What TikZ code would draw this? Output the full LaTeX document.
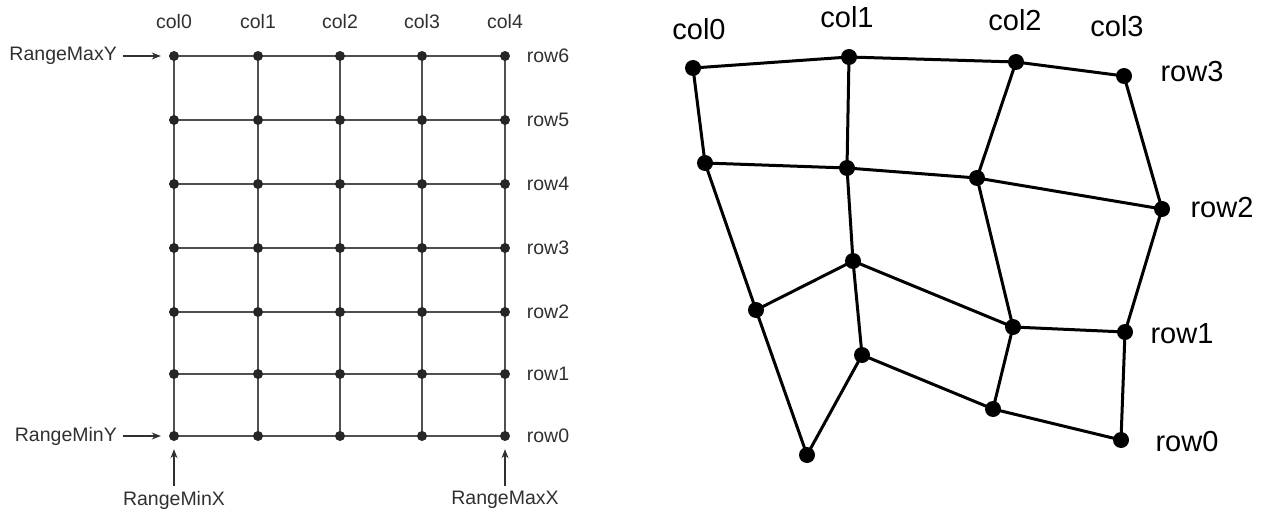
\documentclass[tikz,border=0pt]{standalone}
\usepackage{fontspec}
\setmainfont{Liberation Sans}
\usetikzlibrary{arrows.meta}
\definecolor{lgline}{HTML}{505050}
\definecolor{lgtext}{HTML}{303030}
\begin{document}
\begin{tikzpicture}[x=1pt,y=-1pt,
  ldot/.style={circle,fill=black!85,inner sep=0pt,minimum size=10pt},
  rdot/.style={circle,fill=black,inner sep=0pt,minimum size=16pt},
  lline/.style={draw=lgline,line width=1.5pt},
  rline/.style={draw=black,line width=3pt},
  llab/.style={font=\fontsize{19.5}{22}\selectfont,text=lgtext,inner sep=0pt},
  rlab/.style={font=\fontsize{29}{32}\selectfont,text=black,inner sep=0pt},
  larrow/.style={draw=lgtext,line width=1.2pt,-{Stealth[length=9pt,width=7pt]}}]
\useasboundingbox (0,0) rectangle (1265,513);
% ---------- left grid ----------
\foreach \c/\x in {0/174,1/258,2/340,3/422,4/505}{
  \foreach \r/\y in {0/436,1/374,2/312,3/248,4/184,5/120,6/56}{
    \coordinate (L\c\r) at (\x,\y);
  }
}
\foreach \r in {0,...,6}{ \draw[lline] (L0\r) -- (L4\r); }
\foreach \c in {0,...,4}{ \draw[lline] (L\c0) -- (L\c6); }
\foreach \c in {0,...,4}{ \foreach \r in {0,...,6}{ \node[ldot] (D\c\r) at (L\c\r) {}; } }
\foreach \c/\x in {0/174,1/258,2/340,3/422,4/505}{
  \node[llab] (lc\c) at (\x,22) {col\c};
}
\foreach \r/\y in {0/436,1/374,2/312,3/248,4/184,5/120,6/56}{
  \node[llab] (lr\r) at (548,\y) {row\r};
}
\node[llab,anchor=east] (rmaxy) at (117,56) {RangeMaxY};
\node[llab,anchor=east] (rminy) at (117,436) {RangeMinY};
\node[llab] (rminx) at (174,500) {RangeMinX};
\node[llab] (rmaxx) at (505,500) {RangeMaxX};
\draw[larrow] (rmaxy.east) ++(6,0) coordinate (amy) -- ([xshift=-8pt]D06.west);
\draw[larrow] (rminy.east) ++(6,0) coordinate (amny) -- ([xshift=-8pt]D00.west);
\draw[larrow] (rminx.north) ++(0,-5) coordinate (amnx) -- ([yshift=-8pt]D00.south);
\draw[larrow] (rmaxx.north) ++(0,-5) coordinate (amxx) -- ([yshift=-8pt]D40.south);
% ---------- right grid ----------
\coordinate (R03) at (693,68);  \coordinate (R13) at (849,57);
\coordinate (R23) at (1016,62); \coordinate (R33) at (1124,76);
\coordinate (R02) at (705,163); \coordinate (R12) at (847,168);
\coordinate (R22) at (977,178); \coordinate (R32) at (1162,209);
\coordinate (R01) at (756,310); \coordinate (R11) at (853,261);
\coordinate (R21) at (1013,327);\coordinate (R31) at (1125,332);
\coordinate (R00) at (807,455); \coordinate (R10) at (862,355);
\coordinate (R20) at (993,409); \coordinate (R30) at (1121,440);
\foreach \r in {0,...,3}{ \draw[rline,line join=round] (R0\r) -- (R1\r) -- (R2\r) -- (R3\r); }
\foreach \c in {0,...,3}{ \draw[rline,line join=round] (R\c0) -- (R\c1) -- (R\c2) -- (R\c3); }
\foreach \c in {0,...,3}{ \foreach \r in {0,...,3}{ \node[rdot] (P\c\r) at (R\c\r) {}; } }
\node[rlab] (rc0) at (699,29) {col0};
\node[rlab] (rc1) at (847,17) {col1};
\node[rlab] (rc2) at (1015,20) {col2};
\node[rlab] (rc3) at (1117,26) {col3};
\node[rlab] (rr3) at (1192,72) {row3};
\node[rlab] (rr2) at (1222,208) {row2};
\node[rlab] (rr1) at (1182,334) {row1};
\node[rlab] (rr0) at (1187,442) {row0};
\end{tikzpicture}
\end{document}
